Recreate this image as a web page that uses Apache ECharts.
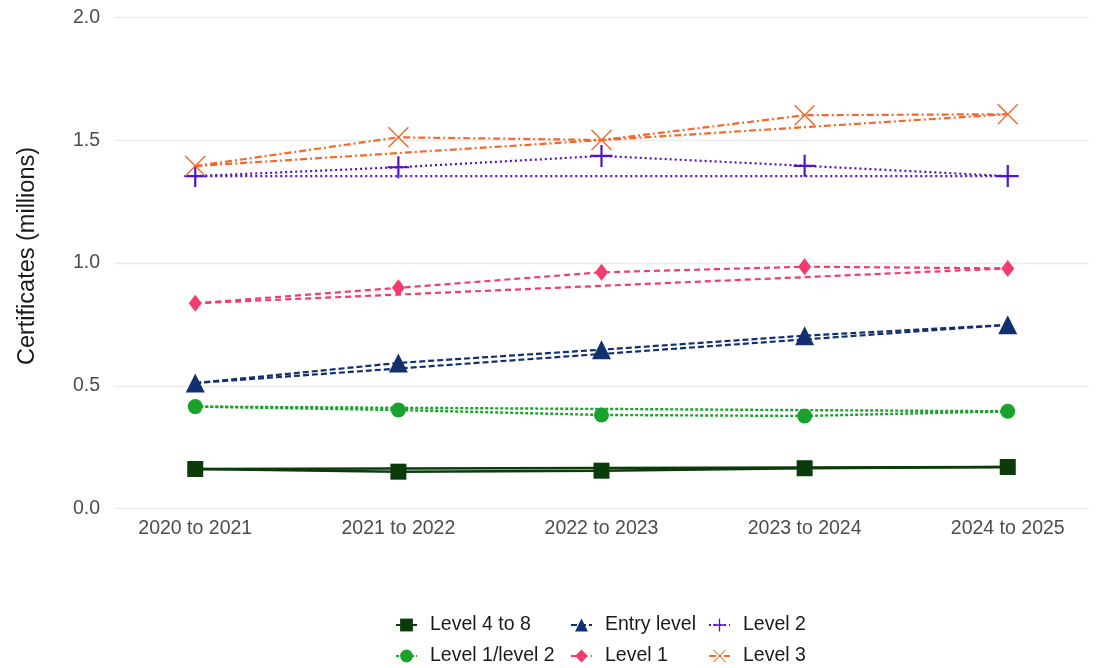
<!DOCTYPE html>
<html>
<head>
<meta charset="utf-8">
<script src="https://cdn.jsdelivr.net/npm/echarts@6/dist/echarts.min.js"></script>
<style>html,body{margin:0;padding:0;background:#fff}#c{width:1099px;height:668px}</style>
</head>
<body>
<div id="c"></div>
<script>
const categories = ['2020 to 2021', '2021 to 2022', '2022 to 2023', '2023 to 2024', '2024 to 2025'];
const yTicks = [0, 0.5, 1.0, 1.5, 2.0];
const level4to8 = [0.161, 0.150, 0.154, 0.164, 0.169];
const level1level2 = [0.415, 0.401, 0.381, 0.377, 0.396];
const entryLevel = [0.511, 0.593, 0.647, 0.704, 0.748];
const level1 = [0.836, 0.899, 0.962, 0.985, 0.978];
const level2 = [1.354, 1.390, 1.436, 1.396, 1.354];
const level3 = [1.395, 1.512, 1.501, 1.602, 1.606];

const FONT = '"Liberation Sans", Arial, sans-serif';
const plusPath = 'path://M9,0 L11,0 L11,9 L20,9 L20,11 L11,11 L11,20 L9,20 L9,11 L0,11 L0,9 L9,9 Z';
const t = 0.95;
const crossPath = 'path://M0,' + t + ' L' + t + ',0 L10,' + (10 - t) + ' L' + (20 - t) + ',0 L20,' + t +
  ' L' + (10 + t) + ',10 L20,' + (20 - t) + ' L' + (20 - t) + ',20 L10,' + (10 + t) + ' L' + t + ',20 L0,' + (20 - t) +
  ' L' + (10 - t) + ',10 Z';

const defs = [
  { name: 'Level 4 to 8', vals: level4to8, color: '#0B3B0B', type: 'solid', width: 2.5, symbol: 'rect', size: 16, legend: [390, 610] },
  { name: 'Level 1/level 2', vals: level1level2, color: '#1AA22E', type: [3, 2], width: 2.4, symbol: 'circle', size: 15, legend: [390, 641] },
  { name: 'Entry level', vals: entryLevel, color: '#12306F', type: [6, 3], width: 2.2, symbol: 'triangle', size: 19, legend: [565, 610] },
  { name: 'Level 1', vals: level1, color: '#F23B6F', type: [6, 4], width: 2.2, symbol: 'diamond', size: [13, 17], legend: [565, 641] },
  { name: 'Level 2', vals: level2, color: '#5214C8', type: [2, 3], width: 2.2, symbol: plusPath, size: 22, legend: [703, 610] },
  { name: 'Level 3', vals: level3, color: '#F4682C', type: [7, 3, 2, 3], width: 2.2, symbol: crossPath, size: 21, legend: [703, 641] }
];

const series = [];
defs.forEach(d => {
  series.push({
    name: d.name + ' trend', type: 'line', silent: true, symbol: 'none',
    data: [[0, d.vals[0]], [categories.length - 1, d.vals[d.vals.length - 1]]],
    lineStyle: { color: d.color, type: d.type, width: d.width }, itemStyle: { color: d.color },
    z: 2, animation: false
  });
  series.push({
    name: d.name, type: 'line', symbol: d.symbol, symbolSize: d.size,
    data: categories.map((c, i) => [i, d.vals[i]]),
    lineStyle: { color: d.color, type: d.type, width: d.width },
    itemStyle: { color: d.color, opacity: 1 },
    z: 3, animation: false
  });
});

const legends = defs.map(d => ({
  data: [d.name], left: d.legend[0], top: d.legend[1], orient: 'horizontal',
  itemWidth: 21, itemHeight: 16, selectedMode: false,
  textStyle: { fontFamily: FONT, fontSize: 19.5, color: '#1a1a1a', padding: [0, 0, 0, 8] }
}));

const chart = echarts.init(document.getElementById('c'), null, { renderer: 'canvas' });
chart.setOption({
  backgroundColor: '#fff',
  animation: false,
  grid: { left: 114, right: 10, top: 17.5, bottom: 159.5, containLabel: false },
  legend: legends,
  xAxis: {
    type: 'value', min: -0.4, max: 4.4,
    axisLine: { show: false }, axisTick: { show: false }, splitLine: { show: false },
    axisLabel: {
      customValues: categories.map((c, i) => i),
      formatter: v => categories[Math.round(v)] || '',
      fontFamily: FONT, fontSize: 19.5, color: '#4D4D4D', margin: 10
    }
  },
  yAxis: {
    type: 'value', min: yTicks[0], max: yTicks[yTicks.length - 1], interval: 0.5,
    name: 'Certificates (millions)', nameLocation: 'middle', nameGap: 74,
    nameTextStyle: { fontFamily: FONT, fontSize: 23.5, color: '#1a1a1a', padding: [0, 0, 0, 14] },
    axisLine: { show: false }, axisTick: { show: false },
    splitLine: { lineStyle: { color: '#EBEBEB', width: 1.3 } },
    axisLabel: { formatter: v => v.toFixed(1), fontFamily: FONT, fontSize: 19.5, color: '#4D4D4D', margin: 14 }
  },
  series: series
});
</script>
</body>
</html>
